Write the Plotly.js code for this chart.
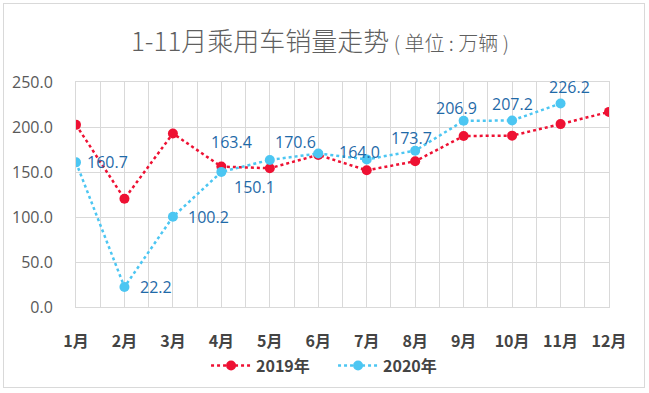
<!DOCTYPE html>
<html><head><meta charset="utf-8">
<script src="https://cdn.plot.ly/plotly-3.0.1.min.js"></script>
<style>
html,body{margin:0;padding:0;background:#fff;}
#wrap{position:relative;width:649px;height:393px;}
#chart{width:649px;height:393px;}
#frame{position:absolute;left:3px;top:3px;width:640px;height:383px;border:1.5px solid #d9d9d9;pointer-events:none;}
</style>
</head><body>
<div id="wrap"><div id="chart"></div><div id="frame"></div></div>
<script>
const monthLabels = ["1月","2月","3月","4月","5月","6月","7月","8月","9月","10月","11月","12月"];
const monthNums = [1,2,3,4,5,6,7,8,9,10,11,12];
const sales2019 = [202.4,120.2,192.8,156.0,154.2,169.0,151.9,161.9,190.0,190.4,203.2,216.8];
const sales2020 = [160.7,22.2,100.2,150.1,163.4,170.6,164.0,173.7,206.9,207.2,226.2];
// label offsets in pixels (styling only)
const labelDx = [31,32,36,33,-38,-23,-7,-4,-7,0,9];
const labelDy = [0,0,0,-15,18,11,7,13,13,17,16];

const red = "#ee1133", blue = "#4cc6f2";
const traces = [
  {x: monthNums.slice(0, sales2019.length), y: sales2019, name: "2019年", type: "scatter", mode: "lines+markers",
   line: {color: red, width: 2.5, dash: "dot"}, marker: {color: red, size: 10}},
  {x: monthNums.slice(0, sales2020.length), y: sales2020, name: "2020年", type: "scatter", mode: "lines+markers",
   line: {color: blue, width: 2.5, dash: "dot"}, marker: {color: blue, size: 10}}
];
const annotations = sales2020.map((v, i) => ({
  x: monthNums[i], y: v, xref: "x", yref: "y", text: v.toFixed(1), showarrow: false,
  xanchor: "center", yanchor: "middle", xshift: labelDx[i], yshift: labelDy[i],
  font: {color: "#1f6aa8", size: 16, family: "Open Sans, DejaVu Sans, sans-serif"}
}));
const layout = {
  width: 649, height: 393,
  margin: {l: 76, r: 40, t: 82, b: 85},
  paper_bgcolor: "#fff", plot_bgcolor: "#fff",
  font: {family: "Open Sans, Noto Sans CJK SC, sans-serif"},
  title: {text: "1-11月乘用车销量走势<span style=\"font-size:20px\"> ( 单位 : 万辆 )</span>",
          x: 0.493, xanchor: "center", y: 0.893, yanchor: "middle",
          font: {size: 26, color: "#5f5f5f", family: "Noto Sans CJK SC, sans-serif", weight: 300}},
  xaxis: {range: [1, 12], tickmode: "array", tickvals: monthNums, ticktext: monthLabels,
          showgrid: true, gridcolor: "#d9d9d9", gridwidth: 1,
          minor: {tickmode: "linear", tick0: 1, dtick: 0.5, showgrid: true, gridcolor: "#d9d9d9", gridwidth: 1},
          showline: true, mirror: true, linecolor: "#d9d9d9", zeroline: false,
          ticks: "", ticklabelstandoff: 20,
          tickfont: {size: 16, color: "#444444", family: "Noto Sans CJK SC, sans-serif", weight: "bold"}},
  yaxis: {range: [0, 250], dtick: 50, tickformat: ".1f", showgrid: true, gridcolor: "#d9d9d9",
          showline: true, mirror: true, linecolor: "#d9d9d9", zeroline: false,
          ticks: "", ticklabelstandoff: 19,
          tickfont: {size: 16, color: "#595959", family: "Open Sans, DejaVu Sans, sans-serif"}},
  annotations: annotations,
  showlegend: true,
  legend: {orientation: "h", x: 0.244, xanchor: "left", y: -0.255, yanchor: "middle",
           font: {size: 16, color: "#444444", family: "Noto Sans CJK SC, sans-serif", weight: "bold"},
           itemwidth: 40, entrywidth: 72, bgcolor: "rgba(0,0,0,0)"}
};
Plotly.newPlot("chart", traces, layout, {displayModeBar: false, staticPlot: true});
</script>
</body></html>
